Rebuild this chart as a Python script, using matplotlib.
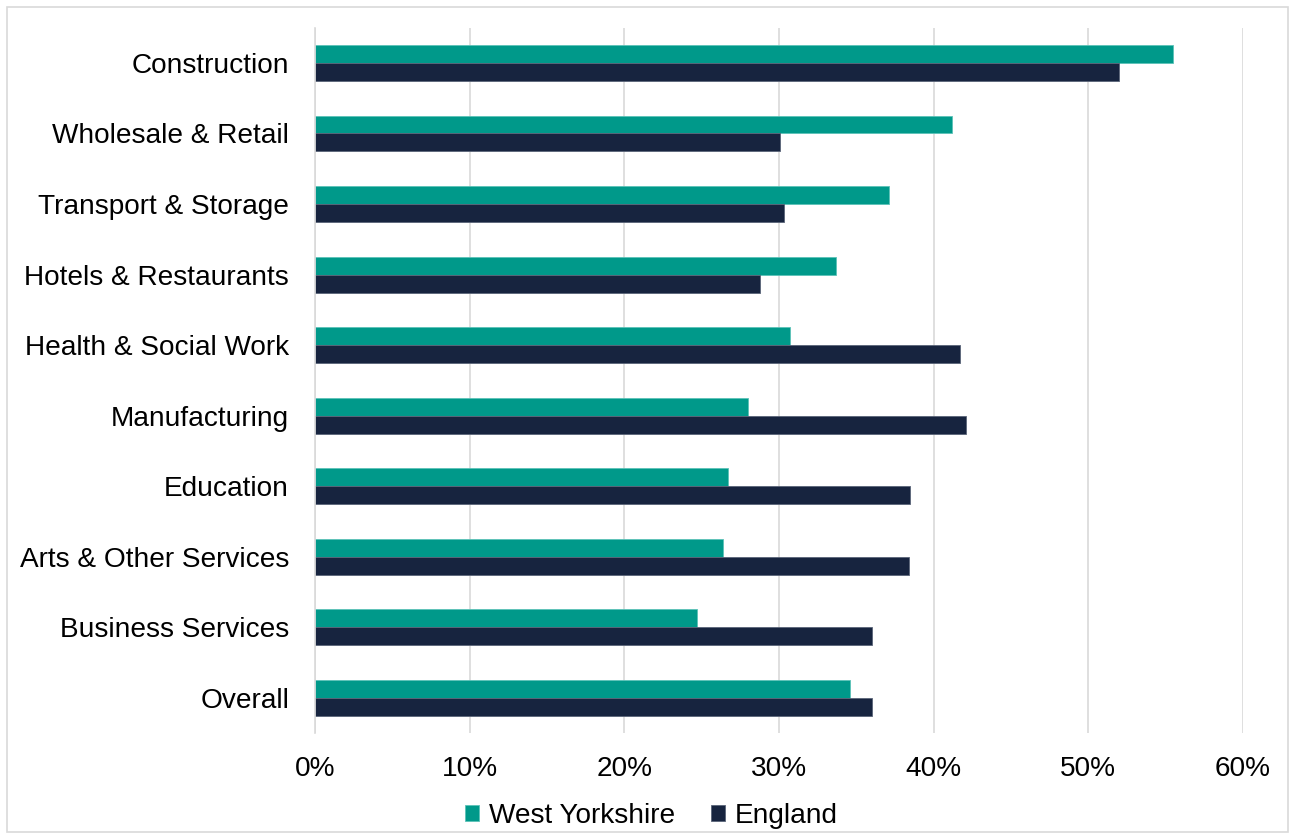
import matplotlib.pyplot as plt
import numpy as np
from matplotlib.patches import Rectangle
from matplotlib.ticker import PercentFormatter

plt.rcParams['font.family'] = ['Liberation Sans', 'DejaVu Sans']

# sectors, top to bottom as shown
sectors = ["Construction", "Wholesale & Retail", "Transport & Storage",
           "Hotels & Restaurants", "Health & Social Work", "Manufacturing",
           "Education", "Arts & Other Services", "Business Services", "Overall"]
west_yorkshire = [55.5, 41.2, 37.1, 33.7, 30.7, 28.0, 26.7, 26.4, 24.7, 34.6]
england = [52.0, 30.1, 30.3, 28.8, 41.7, 42.1, 38.5, 38.4, 36.0, 36.0]
xticks = [0, 10, 20, 30, 40, 50, 60]

teal = '#00998A'
navy = '#17243F'
fs = 20.2

fig = plt.figure(figsize=(12.95, 8.39), dpi=100)
ax = fig.add_axes([0.2431, 0.1263, 0.7167, 0.8407])

y = np.arange(len(sectors))
h = 0.255
ax.barh(y - h / 2, west_yorkshire, height=h, color=teal, label='West Yorkshire',
        edgecolor='#5cc2b8', linewidth=0.6, zorder=3)
ax.barh(y + h / 2, england, height=h, color=navy, label='England',
        edgecolor='#5a6478', linewidth=0.6, zorder=3)

ax.set_yticks(y)
ax.set_yticklabels(sectors, fontsize=fs)
ax.set_ylim(len(sectors) - 0.5, -0.5)
ax.set_xlim(0, 60)
ax.set_xticks(xticks)
ax.xaxis.set_major_formatter(PercentFormatter(decimals=0))
ax.tick_params(axis='x', length=0, pad=16.5, labelsize=fs)
ax.tick_params(axis='y', length=0, pad=18.5)

ax.grid(axis='x', color='#d9d9d9', linewidth=1.2, zorder=0)
for s in ['top', 'right', 'bottom']:
    ax.spines[s].set_visible(False)
ax.spines['left'].set_color('#d9d9d9')
ax.spines['left'].set_linewidth(1.2)
ax.spines['left'].set_zorder(4)

fig.legend(loc='center', bbox_to_anchor=(0.503, 0.028), ncol=2, frameon=False,
           fontsize=fs, handlelength=0.5, handleheight=0.5, handletextpad=0.35,
           columnspacing=1.3)

fig.patches.append(Rectangle((7 / 1295, 7 / 839), 1281 / 1295, 825 / 839,
                             transform=fig.transFigure, fill=False,
                             edgecolor='#d9d9d9', linewidth=1.2))

fig.savefig('out.png', dpi=100)
